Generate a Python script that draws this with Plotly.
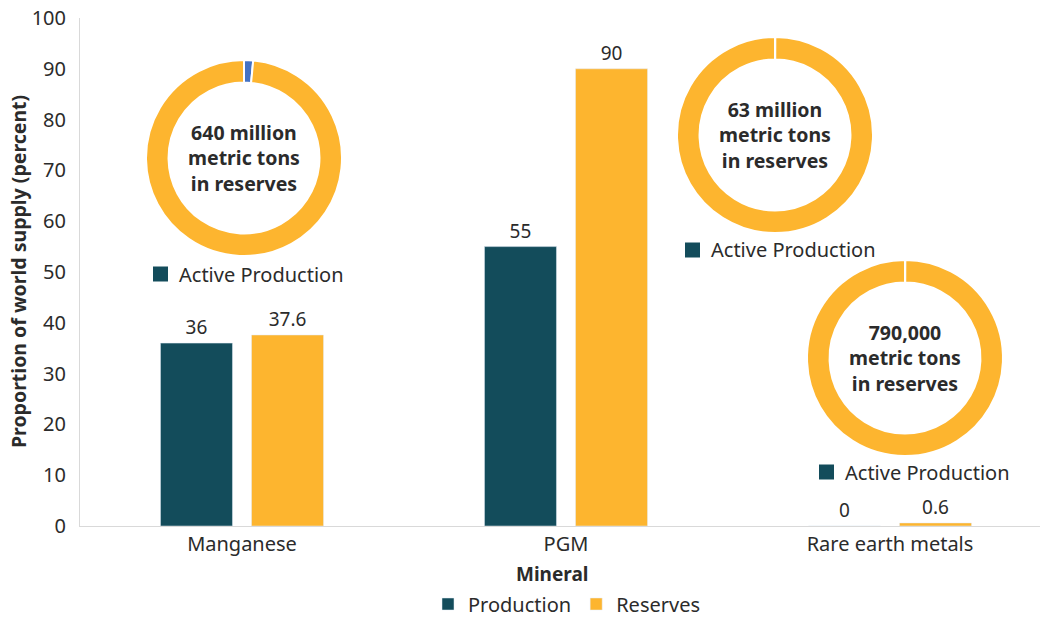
import plotly.graph_objects as go

minerals = ["Manganese", "PGM", "Rare earth metals"]
production = [36, 55, 0]
reserves = [37.6, 90, 0.6]
production_labels = ["36", "55", "0"]
reserves_labels = ["37.6", "90", "0.6"]

donut_labels = ["Active Production", "Other reserves"]
donut_mn = [1.5, 98.5]
donut_pgm = [0.05, 99.95]
donut_ree = [0.05, 99.95]
donut_texts = ["640 million<br>metric tons<br>in reserves",
               "63 million<br>metric tons<br>in reserves",
               "790,000<br>metric tons<br>in reserves"]

C_PROD = "#134C5B"
C_RES = "#FDB52F"
C_BLUE = "#4472C4"
TXT = "#2B2B2B"
FONT = "Noto Sans"
FS = 20

W, H = 1040, 618
ML, MR, MT, MB = 80, 0, 18, 92
PW, PH = W - ML - MR, H - MT - MB


def px_x(x):
    return (x - ML) / PW


def px_y(y):
    return (H - MB - y) / PH


fig = go.Figure()
fig.add_trace(go.Bar(name="Production", x=minerals, y=production,
                     marker_color=C_PROD, text=production_labels,
                     textposition="outside", cliponaxis=False,
                     textfont=dict(size=19, color=TXT)))
fig.add_trace(go.Bar(name="Reserves", x=minerals, y=reserves,
                     marker_color=C_RES, text=reserves_labels,
                     textposition="outside", cliponaxis=False,
                     textfont=dict(size=19, color=TXT)))

donuts = [
    (donut_mn, [C_BLUE, C_RES], (244, 158)),
    (donut_pgm, [C_RES, C_RES], (775, 135)),
    (donut_ree, [C_RES, C_RES], (905, 358)),
]
R = 98
for vals, cols, (cx, cy) in donuts:
    fig.add_trace(go.Pie(labels=donut_labels, values=vals, hole=0.77,
                         sort=False, direction="clockwise", rotation=0,
                         marker=dict(colors=cols, line=dict(color="white", width=2)),
                         textinfo="none", hoverinfo="label+value",
                         showlegend=False,
                         domain=dict(x=[px_x(cx - R), px_x(cx + R)],
                                     y=[px_y(cy + R), px_y(cy - R)])))

annotations = []
for (vals, cols, (cx, cy)), t in zip(donuts, donut_texts):
    annotations.append(dict(x=px_x(cx), y=px_y(cy), xref="paper", yref="paper",
                            xanchor="center", yanchor="middle",
                            text="<b>" + t + "</b>", showarrow=False,
                            font=dict(size=19.5, color=TXT, family=FONT),
                            align="center"))

# "Active Production" donut legends
shapes = []
for (sx, sy) in [(153, 274), (685, 250), (819, 472)]:
    s = 15
    shapes.append(dict(type="rect", xref="paper", yref="paper",
                       x0=px_x(sx), x1=px_x(sx + s),
                       y0=px_y(sy + s / 2), y1=px_y(sy - s / 2),
                       fillcolor=C_PROD, line=dict(width=0)))
    annotations.append(dict(x=px_x(sx + s + 9), y=px_y(sy), xref="paper", yref="paper",
                            xanchor="left", yanchor="middle", text="Active Production",
                            showarrow=False, font=dict(size=FS, color=TXT, family=FONT)))

annotations.append(dict(x=px_x(18), y=px_y(272), xref="paper", yref="paper",
                        xanchor="center", yanchor="middle",
                        text="<b>Proportion of world supply (percent)</b>",
                        textangle=-90, showarrow=False,
                        font=dict(size=19.5, color=TXT, family=FONT)))
annotations.append(dict(x=px_x(552), y=px_y(574), xref="paper", yref="paper",
                        xanchor="center", yanchor="middle",
                        text="<b>Mineral</b>", showarrow=False,
                        font=dict(size=19, color=TXT, family=FONT)))

fig.update_layout(
    width=W, height=H,
    margin=dict(l=ML, r=MR, t=MT, b=MB, autoexpand=False),
    paper_bgcolor="white", plot_bgcolor="white",
    font=dict(family=FONT, size=FS, color=TXT),
    barmode="group", bargap=0.438, bargroupgap=0.209,
    showlegend=True,
    legend=dict(orientation="h", x=px_x(567), xanchor="center",
                y=px_y(604), yanchor="middle",
                font=dict(size=FS, color=TXT), itemwidth=30),
    xaxis=dict(showgrid=False, showline=True, linecolor="#D9D9D9", linewidth=1,
               range=[-0.5, 2.463],
               ticks="", tickfont=dict(size=FS, color=TXT)),
    yaxis=dict(range=[0, 100], dtick=10, showgrid=False, zeroline=False,
               showline=True, linecolor="#D9D9D9", linewidth=1,
               ticks="", ticklabelstandoff=9,
               tickfont=dict(size=FS, color=TXT)),
    annotations=annotations, shapes=shapes,
)

fig.write_html("out.html")
